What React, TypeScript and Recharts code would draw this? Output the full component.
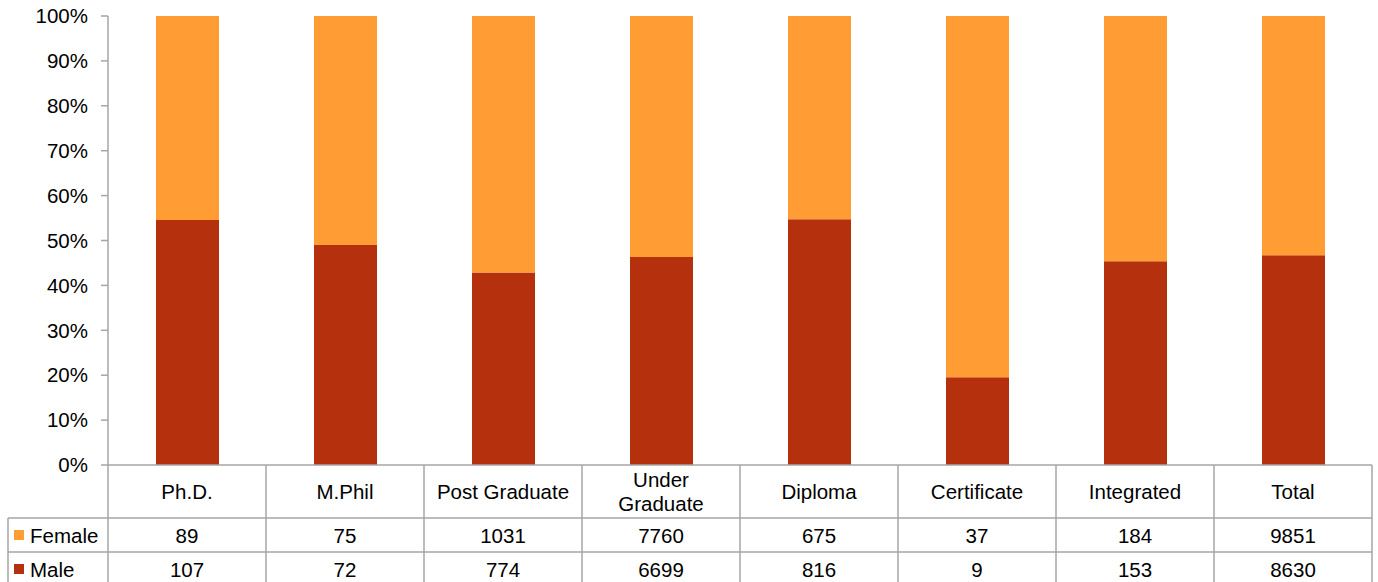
import React from "react";
import { BarChart, Bar, XAxis, YAxis } from "recharts";

const categories = ["Ph.D.", "M.Phil", "Post Graduate", "Under\nGraduate", "Diploma", "Certificate", "Integrated", "Total"];
const female = [89, 75, 1031, 7760, 675, 37, 184, 9851];
const male = [107, 72, 774, 6699, 816, 9, 153, 8630];
const yTicks = [0, 0.1, 0.2, 0.3, 0.4, 0.5, 0.6, 0.7, 0.8, 0.9, 1];

const FEMALE_COLOR = "#FF9C33";
const MALE_COLOR = "#B5310E";
const GRID = "#A6A6A6";
const FONT = "'Liberation Sans', Arial, sans-serif";
const FS = 20.5;

const W = 1378;
const H = 582;
const XH = 117;
const M = { top: 16, right: 6, bottom: 0, left: 0 };
const YW = 108;
const colW = (W - YW - M.right) / categories.length;

const data = categories.map((c, i) => ({ name: c, Male: male[i], Female: female[i] }));

const TableTick = (props: any) => {
  const { x, y, payload, index } = props;
  const i = index ?? payload.index;
  const left = x - colW / 2;
  const right = x + colW / 2;
  const headerH = 53;
  const rowH = 34;
  const r1 = y + headerH;
  const r2 = r1 + rowH;
  const bottom = H + 5;
  const lines = String(payload.value).split("\n");
  return (
    <g fontFamily={FONT} fontSize={FS} fill="#000">
      <line x1={right} y1={y} x2={right} y2={bottom} stroke={GRID} strokeWidth={1.5} />
      {i === 0 && <line x1={left} y1={y} x2={left} y2={bottom} stroke={GRID} strokeWidth={1.5} />}
      <line x1={left} y1={r1} x2={right} y2={r1} stroke={GRID} strokeWidth={1.5} />
      <line x1={left} y1={r2} x2={right} y2={r2} stroke={GRID} strokeWidth={1.5} />
      {lines.map((l, k) => (
        <text key={k} x={x} y={y + headerH / 2 + (k - (lines.length - 1) / 2) * 24} textAnchor="middle" dominantBaseline="central">
          {l}
        </text>
      ))}
      <text x={x} y={r1 + rowH / 2} textAnchor="middle" dominantBaseline="central">{female[i]}</text>
      <text x={x} y={r2 + rowH / 2} textAnchor="middle" dominantBaseline="central">{male[i]}</text>
      {i === 0 && (
        <g>
          <line x1={8} y1={r1} x2={left} y2={r1} stroke={GRID} strokeWidth={1.5} />
          <line x1={8} y1={r2} x2={left} y2={r2} stroke={GRID} strokeWidth={1.5} />
          <line x1={8} y1={r1} x2={8} y2={bottom} stroke={GRID} strokeWidth={1.5} />
          <rect x={14} y={r1 + 12} width={10} height={10} fill={FEMALE_COLOR} />
          <text x={30} y={r1 + rowH / 2} dominantBaseline="central">Female</text>
          <rect x={14} y={r2 + 12} width={10} height={10} fill={MALE_COLOR} />
          <text x={30} y={r2 + rowH / 2} dominantBaseline="central">Male</text>
        </g>
      )}
    </g>
  );
};

export default function App() {
  return (
    <div style={{ position: "absolute", left: 0, top: 0, width: W, height: H, background: "#fff" }}>
      <BarChart width={W} height={H} data={data} stackOffset="expand" margin={M}>
        <XAxis
          dataKey="name"
          height={XH}
          interval={0}
          tickLine={false}
          tickSize={0}
          tickMargin={0}
          axisLine={{ stroke: GRID, strokeWidth: 1.5 }}
          tick={<TableTick />}
        />
        <YAxis
          width={YW}
          ticks={yTicks}
          domain={[0, 1]}
          interval={0}
          tickFormatter={(v: number) => `${Math.round(v * 100)}%`}
          tick={{ fill: "#000", fontSize: FS, fontFamily: FONT }}
          tickSize={7}
          tickMargin={13}
          tickLine={{ stroke: GRID, strokeWidth: 1.5 }}
          axisLine={{ stroke: GRID, strokeWidth: 1.5 }}
        />
        <Bar dataKey="Male" stackId="a" fill={MALE_COLOR} barSize={63} isAnimationActive={false} />
        <Bar dataKey="Female" stackId="a" fill={FEMALE_COLOR} barSize={63} isAnimationActive={false} />
      </BarChart>
    </div>
  );
}
